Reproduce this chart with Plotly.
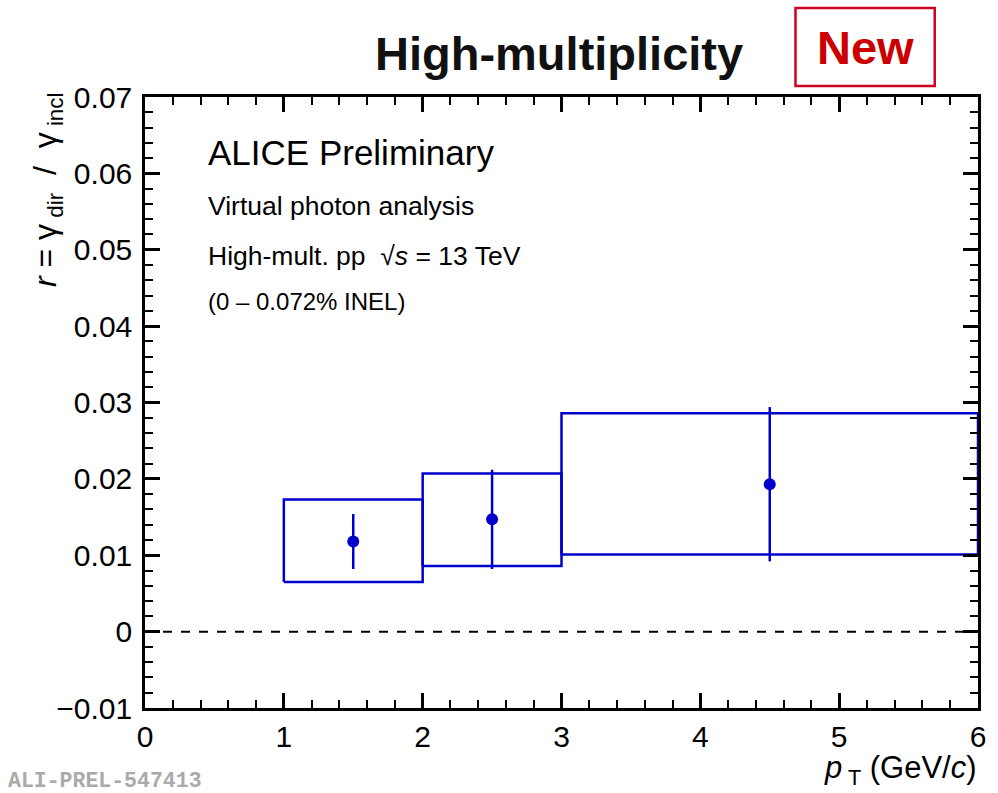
import plotly.graph_objects as go

# ---- data ----
pt = [1.5, 2.5, 4.5]
r_val = [0.0118, 0.0147, 0.0193]
stat_err = [0.0036, 0.0065, 0.0101]
bin_lo = [1.0, 2.0, 3.0]
bin_hi = [2.0, 3.0, 6.0]
sys_lo = [0.0065, 0.0086, 0.0101]
sys_hi = [0.0173, 0.0207, 0.0286]

x_tickvals = [0, 1, 2, 3, 4, 5, 6]
x_ticktext = ["0", "1", "2", "3", "4", "5", "6"]
y_tickvals = [-0.01, 0, 0.01, 0.02, 0.03, 0.04, 0.05, 0.06, 0.07]
y_ticktext = ["\u22120.01", "0", "0.01", "0.02", "0.03", "0.04", "0.05", "0.06", "0.07"]

BLUE = "#0000cc"
FONT = "Liberation Sans, Arial, Helvetica, sans-serif"

fig = go.Figure()

# zero line
fig.add_trace(go.Scatter(x=[0, 6], y=[0, 0], mode="lines",
                         line=dict(color="black", width=2, dash="dash"),
                         hoverinfo="skip", showlegend=False))

# systematic boxes
for lo, hi, ylo, yhi in zip(bin_lo, bin_hi, sys_lo, sys_hi):
    fig.add_trace(go.Scatter(x=[lo, hi, hi, lo, lo], y=[ylo, ylo, yhi, yhi, ylo],
                             mode="lines", line=dict(color=BLUE, width=2.5),
                             hoverinfo="skip", showlegend=False))

# points with stat errors
fig.add_trace(go.Scatter(x=pt, y=r_val, mode="markers",
                         marker=dict(color=BLUE, size=12, symbol="circle"),
                         error_y=dict(type="data", array=stat_err, color=BLUE,
                                      thickness=2.5, width=0),
                         showlegend=False))

axis_common = dict(showline=True, linecolor="black", linewidth=2.5, mirror="ticks",
                   ticks="inside", ticklen=15, tickwidth=2.5, tickcolor="black",
                   showgrid=False, zeroline=False,
                   tickfont=dict(family=FONT, size=30, color="black"))

fig.update_xaxes(range=[0, 6], tickvals=x_tickvals, ticktext=x_ticktext,
                 minor=dict(ticks="inside", ticklen=8, tickwidth=2, dtick=0.2,
                            tickcolor="black", showgrid=False),
                 **axis_common)
fig.update_yaxes(range=[-0.01, 0.07], tickvals=y_tickvals, ticktext=y_ticktext,
                 minor=dict(ticks="inside", ticklen=8, tickwidth=2, dtick=0.002,
                            tickcolor="black", showgrid=False),
                 ticklabelstandoff=4,
                 **axis_common)

W, H = 998, 793
L, R, T, B = 145, 15.5, 97, 85
pw, ph = W - L - R, H - T - B


def px(xp):
    return (xp - L) / pw


def py(yp):
    return (H - B - yp) / ph


annotations = [
    dict(text="High-multiplicity", x=px(561.5), y=py(53), xanchor="center", yanchor="middle",
         font=dict(family=FONT, size=47, color="#111111", weight="bold")),
    dict(text="New", x=px(869), y=py(48), xanchor="center", yanchor="middle",
         font=dict(family=FONT, size=47, color="#cc0000", weight="bold")),
    dict(text="ALICE Preliminary", x=px(206), y=py(152), xanchor="left", yanchor="middle",
         font=dict(family=FONT, size=35, color="black")),
    dict(text="Virtual photon analysis", x=px(206), y=py(206), xanchor="left", yanchor="middle",
         font=dict(family=FONT, size=26.5, color="black")),
    dict(text="High-mult. pp  \u221a<i>s</i> = 13 TeV", x=px(206), y=py(256), xanchor="left",
         yanchor="middle", font=dict(family=FONT, size=26.5, color="black")),
    dict(text="(0 \u2013 0.072% INEL)", x=px(206), y=py(301), xanchor="left", yanchor="middle",
         font=dict(family=FONT, size=24, color="black")),
    dict(text="<i>r</i> = \u03b3<sub> dir</sub>  /  \u03b3<sub> incl</sub>", textangle=-90,
         x=px(47), y=py(90), xanchor="center", yanchor="top",
         font=dict(family=FONT, size=32, color="black")),
    dict(text="<i>p</i><sub> T</sub> (GeV/<i>c</i>)", x=px(984), y=py(770), xanchor="right",
         yanchor="middle", font=dict(family=FONT, size=31, color="black")),
    dict(text="<b>ALI-PREL-547413</b>", x=px(5), y=py(781), xanchor="left", yanchor="middle",
         font=dict(family="Liberation Mono, Courier New, monospace", size=21.5, color="#aaaaaa")),
]
for a in annotations:
    a.update(xref="paper", yref="paper", showarrow=False)

fig.update_layout(
    width=W, height=H,
    margin=dict(l=L, r=R, t=T, b=B, pad=0),
    paper_bgcolor="white", plot_bgcolor="white",
    annotations=annotations,
    shapes=[dict(type="rect", xref="paper", yref="paper",
                 x0=px(799), x1=px(939), y0=py(86), y1=py(8),
                 line=dict(color="#cc0022", width=2.5))],
    showlegend=False,
)

fig.write_html("out.html")
